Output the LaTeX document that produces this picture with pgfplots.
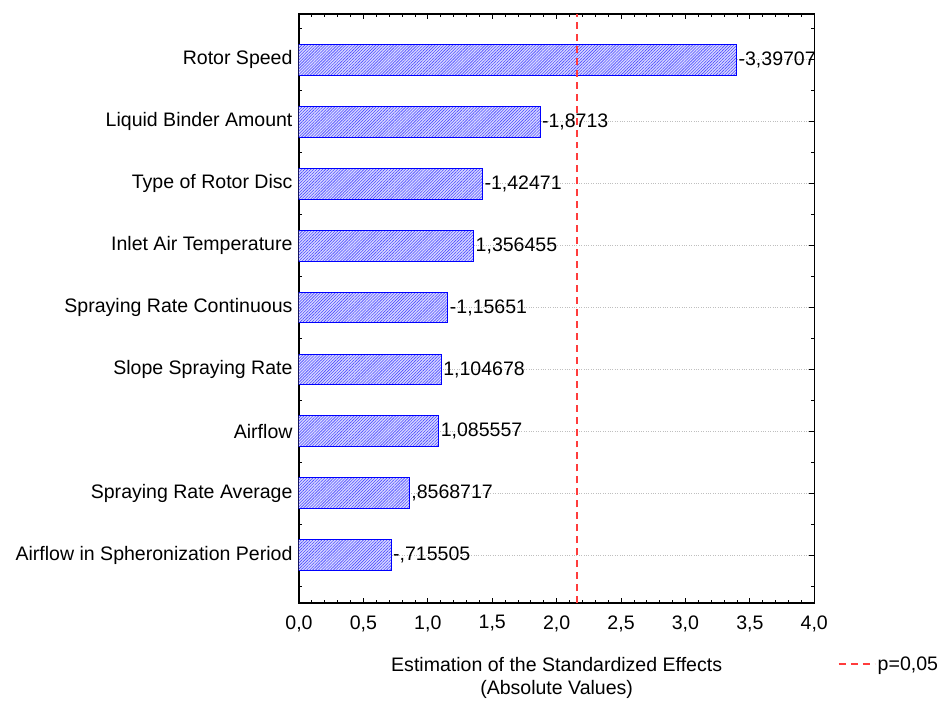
\documentclass[border=0pt]{standalone}
\usepackage{pgfplots}
\pgfplotsset{compat=1.18}
\usepackage{pgfplotstable}
\usetikzlibrary{patterns.meta}
\usepackage{fontspec}
\setmainfont{Liberation Sans}

% Standardized effects (absolute values) with their signed values as labels
\pgfplotstableread[col sep=semicolon]{
pos;effect;label
8;3.39707;-3,39707
7;1.8713;-1,8713
6;1.42471;-1,42471
5;1.356455;1,356455
4;1.15651;-1,15651
3;1.104678;1,104678
2;1.085557;1,085557
1;0.8568717;,8568717
0;0.715505;-,715505
}\effects

\newcommand{\chartfont}{\fontsize{19.6}{24}\selectfont}
\definecolor{critred}{RGB}{255,60,60}

\pgfplotsset{
  critline/.style={legend image code/.code={%
    \draw[##1] (0pt,0pt) -- (27pt,0pt);
    \path (0pt,0pt) -- (36pt,0pt);}},
}

\begin{document}
\begin{tikzpicture}
\begin{axis}[
  name=ax,
  scale only axis,
  width=517pt, height=591pt,
  xmin=0, xmax=4,
  ymin=-0.77, ymax=8.74,
  xtick={0,0.5,...,4},
  minor x tick num=4,
  ytick={0,...,8},
  minor ytick={-0.5,0.5,...,8.5},
  yticklabels={Airflow in Spheronization Period, Spraying Rate Average, Airflow, Slope Spraying Rate, Spraying Rate Continuous, Inlet Air Temperature, Type of Rotor Disc, Liquid Binder Amount, Rotor Speed},
  tick pos=both,
  tick align=inside,
  major tick length=5pt,
  minor tick length=3pt,
  every tick/.style={black, line width=0.8pt},
  axis line style={black, line width=1.2pt},
  ymajorgrids,
  major grid style={gray!50, dotted, line width=0.6pt},
  xticklabel style={yshift=-9pt, /pgf/number format/.cd, use comma, fixed, fixed zerofill, precision=1},
  yticklabel style={xshift=-3pt},
  /pgf/number format/assume math mode=true,
  tick label style={font=\chartfont},
  xlabel={Estimation of the Standardized Effects\\(Absolute Values)},
  xlabel style={align=center, font=\fontsize{19.6}{23.5}\selectfont, at={(axis description cs:0.5,-0.086)}, anchor=north},
  legend style={at={(axis description cs:1.04,-0.104)}, anchor=west, draw=none, fill=none, font=\chartfont},
  legend cell align=left,
]
\addplot[forget plot, xbar, bar width=31pt, draw=blue, line width=1pt, fill=blue!15,
  postaction={pattern={Lines[angle=45, distance=2.1pt, line width=0.6pt]}, pattern color=blue!70},
  point meta=explicit symbolic,
  nodes near coords,
  every node near coord/.append style={anchor=west, black, font=\chartfont, inner sep=1.5pt}]
  table[x=effect, y=pos, meta=label] {\effects};
\addplot[critline, color=critred, line width=1.8pt, dash pattern=on 7pt off 5pt]
  coordinates {(2.16,-0.77) (2.16,8.74)};
\addlegendentry{p=0,05}
\end{axis}
% white margins around the chart
\path ([xshift=-300pt, yshift=14pt]ax.north west) -- ([xshift=126pt]ax.north east);
\end{tikzpicture}
\end{document}
